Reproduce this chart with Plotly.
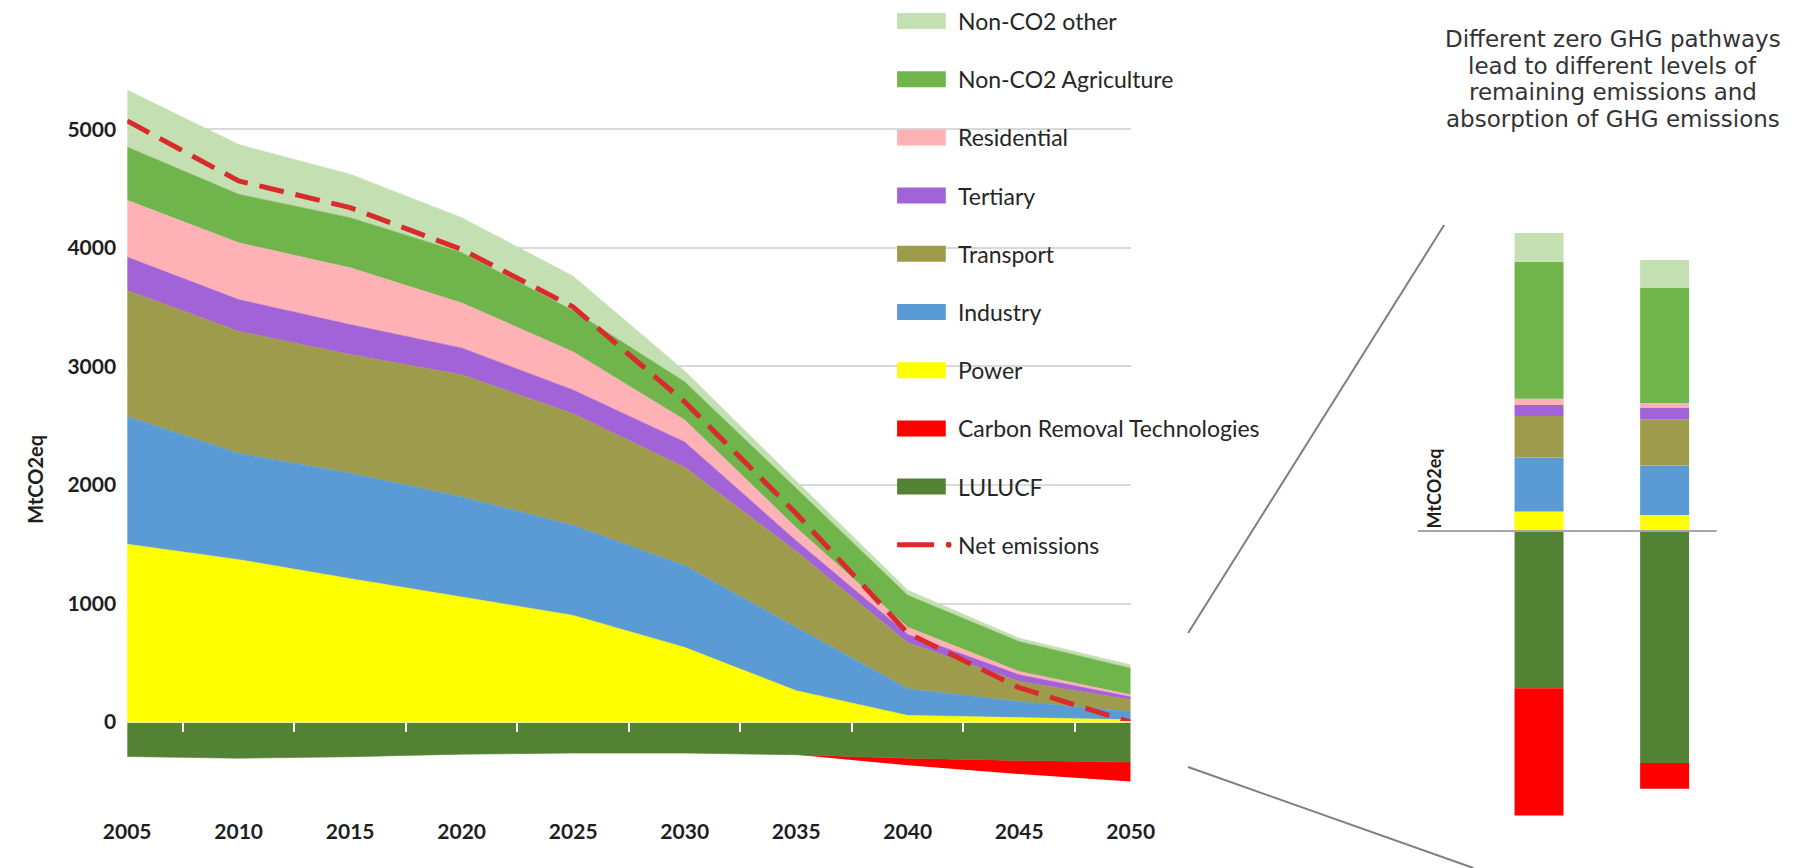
import plotly.graph_objects as go

W, H = 1802, 868

# ---------------- data: main stacked area chart (MtCO2eq) ----------------
years = [2005, 2010, 2015, 2020, 2025, 2030, 2035, 2040, 2045, 2050]
power = [1500, 1370, 1210, 1055, 900, 630, 265, 56, 40, 20]
industry = [1077, 898, 890, 845, 760, 690, 535, 226, 134, 70]
transport = [1063, 1028, 999, 1030, 940, 830, 640, 388, 169, 98]
tertiary = [281, 267, 253, 225, 200, 213, 90, 70, 56, 25]
residential = [479, 479, 479, 380, 322, 185, 110, 60, 28, 17]
agriculture = [450, 409, 423, 425, 348, 322, 332, 270, 253, 225]
non_co2_other = [480, 419, 366, 294, 290, 90, 62, 43, 28, 28]
lulucf = [-290, -304, -292, -270, -261, -261, -275, -304, -323, -337]
carbon_removal = [0, 0, 0, 0, 0, 0, 0, -60, -115, -163]
net_emissions = [5070, 4563, 4338, 3986, 3500, 2700, 1759, 750, 290, 0]

# ---------------- data: zoomed 2050 pathway bars ----------------
pathways = ["Pathway A", "Pathway B"]
bar_power = [32, 26]
bar_industry = [88, 81]
bar_transport = [68, 75]
bar_tertiary = [18, 20]
bar_residential = [10, 7]
bar_agriculture = [224, 188]
bar_other = [47, 46]
bar_lulucf = [-257, -379]
bar_removal = [-208, -42]

ytick_vals = [0, 1000, 2000, 3000, 4000, 5000]
xtick_text = [str(y) for y in years]
note_lines = ["Different zero GHG pathways", "lead to different levels of",
              "remaining emissions and", "absorption of GHG emissions"]

# ---------------- styles ----------------
C_OTHER = "#C4E0B2"
C_AGRI = "#70B44C"
C_RES = "#FFB2B6"
C_TERT = "#A262D8"
C_TRANS = "#9E9B4C"
C_IND = "#5B9BD5"
C_POW = "#FFFF00"
C_CRT = "#FF0000"
C_LUL = "#548235"
C_NET = "#D92B2B"

TICK_FONT = dict(family="Lato, sans-serif", size=21, color="#1E1E1E", weight=700)
LEG_FONT = dict(family="Lato, sans-serif", size=23, color="#262626")


def px_x(x):
    return x / W


def px_y(y):
    return 1 - y / H


fig = go.Figure()

pos_stack = [
    ("Power", power, C_POW),
    ("Industry", industry, C_IND),
    ("Transport", transport, C_TRANS),
    ("Tertiary", tertiary, C_TERT),
    ("Residential", residential, C_RES),
    ("Non-CO2 Agriculture", agriculture, C_AGRI),
    ("Non-CO2 other", non_co2_other, C_OTHER),
]
neg_stack = [
    ("LULUCF", lulucf, C_LUL, 0.6),
    ("Carbon Removal Technologies", carbon_removal, C_CRT, 0),
]

for name, vals, col in pos_stack:
    fig.add_trace(go.Scatter(x=years, y=vals, name=name, mode="lines",
                             stackgroup="pos", fillcolor=col,
                             line=dict(width=0.6, color=col),
                             showlegend=False, hoverinfo="x+y+name"))
for name, vals, col, lw in neg_stack:
    fig.add_trace(go.Scatter(x=years, y=vals, name=name, mode="lines",
                             stackgroup="neg", fillcolor=col,
                             line=dict(width=lw, color=col),
                             showlegend=False, hoverinfo="x+y+name"))

# net emissions line on an overlay axis (same scale as x)
fig.add_trace(go.Scatter(x=years, y=net_emissions, name="Net emissions",
                         mode="lines", xaxis="x3", yaxis="y",
                         line=dict(color=C_NET, width=5, dash="25px,12px"),
                         showlegend=False))

# pathway bars
bar_stack = [
    ("Power", bar_power, C_POW),
    ("Industry", bar_industry, C_IND),
    ("Transport", bar_transport, C_TRANS),
    ("Tertiary", bar_tertiary, C_TERT),
    ("Residential", bar_residential, C_RES),
    ("Non-CO2 Agriculture", bar_agriculture, C_AGRI),
    ("Non-CO2 other", bar_other, C_OTHER),
    ("LULUCF", bar_lulucf, C_LUL),
    ("Carbon Removal Technologies", bar_removal, C_CRT),
]
for name, vals, col in bar_stack:
    fig.add_trace(go.Bar(x=pathways, y=vals, name=name, xaxis="x2", yaxis="y2",
                         marker=dict(color=col, line=dict(width=0)),
                         width=0.39, showlegend=False))

# ---------------- axes ----------------
Y_RANGE = [-800, 5600]
Y_DOM = [px_y(817), px_y(58)]
X_DOM = [px_x(106), px_x(1137)]
zero_paper = Y_DOM[0] + (0 - Y_RANGE[0]) / (Y_RANGE[1] - Y_RANGE[0]) * (Y_DOM[1] - Y_DOM[0])

fig.update_layout(
    width=W, height=H, margin=dict(l=0, r=0, t=0, b=0),
    paper_bgcolor="white", plot_bgcolor="white",
    barmode="relative", showlegend=False,
    xaxis=dict(domain=X_DOM, range=[2005, 2050], tickvals=years,
               ticktext=xtick_text, tickfont=TICK_FONT, showgrid=False,
               zeroline=False, showline=False, ticks=""),
    yaxis=dict(domain=Y_DOM, range=Y_RANGE, tickvals=ytick_vals,
               tickfont=TICK_FONT, gridcolor="#D9D9D9", gridwidth=1.5,
               zeroline=False, showline=False, ticks="", ticklabelstandoff=10),
    xaxis3=dict(overlaying="x", anchor="free", position=zero_paper,
                side="bottom", range=[2005, 2050],
                tickvals=[2007.5, 2012.5, 2017.5, 2022.5, 2027.5, 2032.5,
                          2037.5, 2042.5, 2047.5],
                ticks="outside", ticklen=9, tickwidth=1.5, tickcolor="white",
                showticklabels=False, showline=True, linecolor="#EFEFA2",
                linewidth=2, showgrid=False, zeroline=False),
    xaxis2=dict(domain=[px_x(1492), px_x(1750)], range=[-0.5, 1.5],
                visible=False, anchor="y2"),
    yaxis2=dict(domain=[px_y(837), px_y(102.6)], range=[-500, 700],
                visible=False, anchor="x2"),
)

# ---------------- custom legend ----------------
legend_items = [
    ("Non-CO2 other", C_OTHER),
    ("Non-CO2 Agriculture", C_AGRI),
    ("Residential", C_RES),
    ("Tertiary", C_TERT),
    ("Transport", C_TRANS),
    ("Industry", C_IND),
    ("Power", C_POW),
    ("Carbon Removal Technologies", C_CRT),
    ("LULUCF", C_LUL),
    ("Net emissions", None),
]
shapes = []
annotations = []
LEG_X0, LEG_X1, LEG_TX = 897, 947, 957
LEG_TOP, LEG_STEP = 21, 58.2
for i, (label, col) in enumerate(legend_items):
    yc = LEG_TOP + i * LEG_STEP
    if col is not None:
        shapes.append(dict(type="rect", xref="paper", yref="paper",
                           x0=px_x(LEG_X0), x1=px_x(LEG_X1),
                           y0=px_y(yc + 8), y1=px_y(yc - 8),
                           fillcolor=col, line=dict(width=0)))
    else:
        shapes.append(dict(type="line", xref="paper", yref="paper",
                           x0=px_x(LEG_X0), x1=px_x(LEG_X0 + 38),
                           y0=px_y(yc), y1=px_y(yc),
                           line=dict(color=C_NET, width=5)))
        shapes.append(dict(type="circle", xref="paper", yref="paper",
                           x0=px_x(947), x1=px_x(953),
                           y0=px_y(yc + 3), y1=px_y(yc - 3),
                           fillcolor=C_NET, line=dict(width=0)))
    annotations.append(dict(text=label, xref="paper", yref="paper",
                            x=px_x(LEG_TX), y=px_y(yc), xanchor="left",
                            yanchor="middle", showarrow=False, font=LEG_FONT))

# zero line of the bar panel and the zoom lines
shapes.append(dict(type="line", xref="paper", yref="y2",
                   x0=px_x(1432), x1=px_x(1739), y0=0, y1=0,
                   line=dict(color="#A6A6A6", width=2), layer="above"))
shapes.append(dict(type="line", xref="paper", yref="paper",
                   x0=px_x(1196), y0=px_y(633), x1=px_x(1459), y1=px_y(225),
                   line=dict(color="#7F7F7F", width=2)))
shapes.append(dict(type="line", xref="paper", yref="paper",
                   x0=px_x(1196), y0=px_y(767), x1=px_x(1489), y1=px_y(868),
                   line=dict(color="#7F7F7F", width=2)))

# axis titles
annotations.append(dict(text="MtCO2eq", xref="paper", yref="paper",
                        x=px_x(11), y=px_y(479), textangle=-90,
                        showarrow=False,
                        font=dict(family="Lato, sans-serif", size=20,
                                  color="#1E1E1E", weight=700),
                        xanchor="center", yanchor="middle"))
annotations.append(dict(text="MtCO2eq", xref="paper", yref="paper",
                        x=px_x(1449), y=px_y(488), textangle=-90,
                        showarrow=False,
                        font=dict(family="Lato, sans-serif", size=18,
                                  color="#1E1E1E", weight=700),
                        xanchor="center", yanchor="middle"))

# panel note, one annotation per line
for i, line in enumerate(note_lines):
    annotations.append(dict(
        text=line, xref="paper", yref="paper", x=px_x(1632),
        y=px_y(39 + i * 26.6), xanchor="center", yanchor="middle",
        showarrow=False,
        font=dict(family="DejaVu Sans, sans-serif", size=23, color="#333333")))

fig.update_layout(shapes=shapes, annotations=annotations)

fig.write_html("out.html", config={"displayModeBar": False},
               post_script="document.body.style.margin='0px';")
